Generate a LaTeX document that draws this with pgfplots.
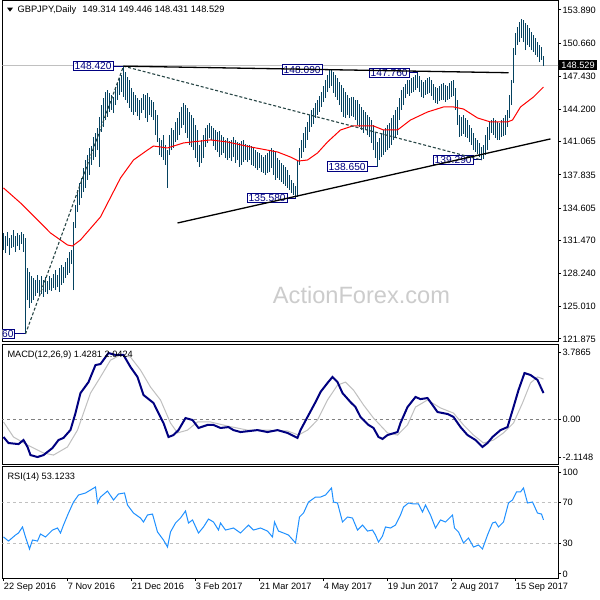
\documentclass[border=0pt]{standalone}
\usepackage{pgfplots}
\pgfplotsset{compat=1.18}
\usepackage{pgfplotstable}
\usepackage{fontspec}
\setmainfont{Liberation Sans}
\definecolor{barcol}{RGB}{5,66,96}
\definecolor{mnavy}{RGB}{0,0,128}
\definecolor{msilver}{RGB}{192,192,192}
\definecolor{rsiblue}{RGB}{30,144,255}
\definecolor{zz}{RGB}{40,70,70}
\definecolor{wm}{RGB}{204,204,204}

\pgfplotstableread{
i hi lo
0 132.19 130.54
1 131.90 130.24
2 132.29 130.92
3 131.70 130.05
4 132.00 130.73
5 132.48 130.83
6 131.90 130.34
7 132.19 130.92
8 132.00 130.54
9 132.29 131.12
10 132.09 130.34
11 131.70 122.36
12 128.78 125.67
13 128.39 124.89
14 128.01 125.38
15 127.81 125.67
16 127.62 126.06
17 128.10 126.35
18 127.62 126.16
19 128.01 126.25
20 127.62 125.96
21 127.91 126.45
22 127.52 126.25
23 128.01 126.64
24 127.81 126.55
25 128.20 126.84
26 128.59 126.64
27 128.10 126.93
28 128.78 126.45
29 129.08 127.13
30 128.88 127.32
31 129.37 127.81
32 129.76 128.10
33 130.34 128.30
34 130.54 129.17
35 133.26 126.64
36 134.91 132.68
37 136.37 134.23
38 137.05 134.91
39 137.54 135.59
40 138.51 136.18
41 139.29 136.57
42 139.78 137.35
43 140.46 137.83
44 140.65 138.81
45 141.53 139.29
46 141.92 139.58
47 142.41 140.26
48 143.48 138.61
49 144.64 142.02
50 145.32 142.50
51 145.91 143.18
52 146.10 143.48
53 145.81 143.96
54 145.62 144.16
55 145.42 143.87
56 146.30 144.64
57 146.78 145.13
58 147.27 145.62
59 147.56 145.91
60 148.42 145.42
61 147.85 145.13
62 147.37 144.84
63 147.08 144.35
64 146.30 143.96
65 145.91 143.67
66 145.62 143.96
67 145.32 143.57
68 145.13 143.18
69 145.32 143.87
70 145.71 144.16
71 145.62 143.38
72 145.81 142.99
73 145.42 143.67
74 145.13 143.48
75 144.94 143.18
76 144.16 141.72
77 143.67 141.04
78 141.43 139.78
79 141.24 139.58
80 141.72 139.29
81 140.75 138.81
82 140.26 136.57
83 141.72 139.78
84 142.41 140.26
85 142.21 140.46
86 142.99 141.04
87 143.38 141.24
88 143.96 141.72
89 144.45 142.41
90 144.84 142.70
91 144.64 141.92
92 144.35 141.43
93 143.96 140.75
94 143.67 140.56
95 143.38 140.26
96 142.70 139.49
97 142.21 139.10
98 140.75 138.61
99 141.24 139.00
100 141.72 139.49
101 142.41 140.56
102 142.70 140.95
103 142.89 141.43
104 142.60 141.24
105 142.41 140.65
106 142.21 140.26
107 142.02 140.07
108 142.11 139.58
109 141.72 139.78
110 141.53 139.97
111 141.24 139.49
112 141.43 139.29
113 141.14 139.49
114 141.24 139.19
115 141.53 139.58
116 141.24 139.00
117 141.04 139.29
118 140.95 138.61
119 141.14 138.81
120 141.24 139.10
121 140.85 139.29
122 140.75 139.10
123 140.75 139.29
124 140.65 138.81
125 140.46 138.71
126 140.26 138.51
127 140.07 138.32
128 139.97 138.51
129 139.78 138.12
130 139.58 138.03
131 139.78 137.83
132 139.97 138.03
133 140.26 138.12
134 140.46 138.51
135 140.26 137.83
136 140.07 137.35
137 139.49 137.54
138 139.29 137.35
139 139.00 137.15
140 138.81 136.96
141 138.61 136.76
142 138.32 136.57
143 137.83 136.37
144 137.35 136.08
145 137.05 135.89
146 136.76 135.58
147 139.29 135.69
148 140.46 138.81
149 141.24 139.49
150 141.92 140.07
151 142.50 140.46
152 142.99 141.24
153 143.67 142.02
154 144.16 142.50
155 144.35 142.79
156 144.84 143.38
157 145.13 143.67
158 145.52 143.96
159 145.91 144.45
160 146.49 144.94
161 147.08 145.32
162 147.56 145.91
163 148.05 146.30
164 148.09 146.49
165 147.85 145.81
166 147.56 145.42
167 147.27 145.13
168 146.88 144.64
169 146.59 143.96
170 146.30 143.48
171 145.91 143.38
172 145.62 143.67
173 145.32 143.38
174 145.42 143.57
175 145.42 143.48
176 145.13 143.18
177 145.13 142.70
178 144.74 142.50
179 144.45 142.21
180 144.16 141.92
181 143.96 142.21
182 143.67 141.72
183 143.48 141.53
184 143.18 140.95
185 142.70 140.26
186 141.92 139.49
187 141.04 138.65
188 141.43 139.29
189 141.92 139.58
190 142.21 139.78
191 142.41 140.07
192 142.70 140.26
193 142.89 140.46
194 143.38 140.75
195 143.67 141.24
196 144.16 141.43
197 144.45 141.72
198 145.32 143.18
199 146.10 144.16
200 146.39 144.64
201 146.69 145.32
202 147.08 145.71
203 147.08 145.52
204 147.27 145.81
205 147.37 145.91
206 147.56 146.10
207 147.76 146.30
208 147.47 145.91
209 147.08 145.42
210 146.88 145.32
211 147.08 145.62
212 147.27 145.71
213 147.37 145.81
214 147.08 145.52
215 146.69 145.13
216 146.39 144.84
217 146.30 144.74
218 146.49 145.03
219 146.69 145.13
220 146.78 145.13
221 146.59 144.94
222 146.49 145.13
223 146.78 145.23
224 146.98 145.42
225 147.08 145.52
226 146.30 144.16
227 145.13 142.70
228 143.67 141.53
229 143.48 141.63
230 143.67 141.82
231 143.38 141.53
232 143.18 141.43
233 142.70 141.04
234 142.41 140.75
235 141.92 140.26
236 141.43 140.07
237 141.24 139.88
238 140.95 139.58
239 140.56 139.29
240 140.75 139.39
241 141.72 139.78
242 142.50 140.26
243 142.99 141.24
244 143.18 141.92
245 143.38 141.72
246 143.18 141.43
247 142.99 141.24
248 142.89 141.24
249 143.18 141.53
250 143.38 141.63
251 143.67 141.72
252 144.16 142.50
253 145.62 143.38
254 147.08 144.64
255 150.19 146.78
256 151.65 149.51
257 152.23 150.48
258 152.72 150.77
259 153.01 151.16
260 152.91 150.77
261 152.62 149.99
262 152.43 150.48
263 152.14 150.29
264 151.75 149.99
265 151.45 149.80
266 151.16 149.51
267 150.77 149.31
268 150.48 148.83
269 150.29 149.02
270 149.45 148.43
}\bars

\pgfplotstableread{
i v
0 136.57
8.5 135.11
13.5 134.14
23.5 132.19
32 131.02
34.5 130.92
38.5 131.51
48.5 133.75
58.5 137.54
65 139.29
72 140.26
75 140.65
82 140.46
90 140.95
103.5 141.24
112 141.04
123.5 140.56
137 140.07
143.5 139.58
147.5 139.19
152 139.29
157 139.97
162 141.04
168.5 142.21
174.5 142.60
185 142.60
190 142.21
197 142.21
203.5 143.18
212 143.96
220 144.45
225 144.45
230 144.25
237 143.38
243.5 142.99
252 142.99
254.5 143.18
258.5 144.45
265 145.42
270 146.39
}\sma

\pgfplotstableread{
i v
0 -0.97
2.5 -1.31
7.5 -1.37
10 -1.14
12 -1.53
13.5 -1.99
17 -2.10
20 -1.99
24.5 -1.59
27.5 -1.14
30 -1.02
33.5 -0.57
36 0.38
38.5 1.51
42.5 2.13
46 3.09
48.5 3.15
52.5 3.77
56 3.66
60 3.66
63.5 2.98
67 2.42
70 1.40
75 0.95
77.5 0.38
80 -0.18
82.5 -0.97
85 -0.86
87.5 -0.58
91 0.10
94.5 -0.01
97.5 -0.46
102 -0.29
105 -0.29
108.5 -0.46
112.5 -0.41
115 -0.58
118.5 -0.69
127 -0.58
132 -0.69
137 -0.58
142 -0.74
147 -1.02
148.5 -0.58
152 0.16
156 1.00
158.5 1.57
162 2.08
164.5 2.42
167 2.13
169.5 1.51
173.5 1.00
176 0.72
178.5 0.16
182.5 -0.29
185 -0.46
187.5 -0.97
189.5 -1.08
192 -0.86
197 -0.69
198.5 -0.18
202 0.72
206 1.29
208.5 1.17
212 1.23
214.5 0.84
217 0.44
222 0.33
225 0.16
228.5 -0.41
232 -0.86
236 -1.14
239.5 -1.53
242 -1.31
244.5 -0.97
248.5 -0.58
252 -0.41
255 0.72
257.5 1.68
260.5 2.64
263.5 2.53
267 2.25
270 1.51
}\macd

\pgfplotstableread{
i v
0 -0.12
5 -0.97
12 -1.42
20 -1.87
25 -1.99
32 -1.53
37 -0.58
40 0.38
43.5 1.51
48.5 2.42
53.5 3.37
58.5 3.66
63.5 3.54
68.5 2.81
73.5 1.85
78.5 1.12
83.5 -0.18
87 -0.74
92 -0.58
97 -0.12
103.5 -0.12
112 -0.35
122 -0.58
132 -0.58
142 -0.63
147.5 -0.86
152 -0.58
157 -0.01
162 1.12
167 1.96
171 2.13
175 1.68
180 0.84
185 0.10
192 -0.74
197 -0.86
202 -0.29
206 0.72
212 1.12
218.5 0.67
225 0.38
230 -0.29
235 -0.86
240 -1.31
245 -1.14
250 -0.74
255 -0.18
259.5 0.95
263.5 2.08
267 2.42
270 2.30
}\sig

\pgfplotstableread{
i v
0 36.3
2.5 32.3
6 38.2
7.5 40.2
9.5 46.1
11 36.3
13 24.5
14.5 33.3
17 32.3
18.5 39.2
21 36.3
24.5 43.1
27 45.1
28.5 40.2
30 48.0
32.5 59.8
35 70.6
37.5 77.5
41 79.5
43.5 82.4
46 85.4
47 69.7
48.5 75.5
52 81.4
55 72.6
57.5 78.5
60.5 79.5
62 67.7
65 59.8
68.5 54.9
70 51.0
72 57.9
74.5 58.8
77 41.2
80 33.3
82 26.4
83.5 41.2
86 50.0
88.5 54.9
91 61.8
92.5 50.0
94.5 53.0
97.5 40.2
100 46.1
102.5 53.9
105 51.0
107.5 43.1
108.5 50.0
111 43.1
115 45.1
118.5 40.2
122.5 48.0
125 43.1
128.5 45.1
132 42.1
134.5 36.3
135.5 51.0
137.5 42.1
140 40.2
142.5 38.2
146 30.4
148 55.9
150 59.8
152.5 70.6
156 75.5
158.5 75.5
161 77.5
164 84.4
165 70.6
167 69.7
169.5 51.0
172 55.9
174.5 54.9
177 43.1
179.5 48.0
182 42.1
184.5 43.1
186 38.2
187.5 31.3
189.5 37.2
191 46.1
193.5 45.1
196 48.0
198.5 57.9
200 65.7
202.5 69.7
205 68.7
207.5 68.7
209.5 60.8
211 67.7
213.5 57.9
216 45.1
218.5 53.0
221 51.0
224.5 57.9
225.5 45.1
227.5 41.2
230 30.4
232.5 35.3
235 26.4
237.5 28.4
239.5 24.5
242 38.2
244.5 50.0
246 51.0
247.5 46.1
250 51.0
252.5 69.7
254.5 72.6
256.5 80.5
258.5 80.5
260 84.4
262 69.7
264.5 70.6
267 59.8
269 58.8
270 53.1
}\rsi

\tikzset{
  lbl/.style={draw=mnavy, fill=white, text=mnavy, line width=0.5pt,
    font=\fontsize{5.1}{6}\selectfont, inner xsep=0.7pt, inner ysep=0.6pt, anchor=east},
}

\begin{document}
\begin{tikzpicture}
\fill[white] (0,0) rectangle (300pt,300pt);
\path[use as bounding box] (0,0) rectangle (300pt,300pt);
\pgfplotsset{
  mt/.style={
    scale only axis, width=277.75pt, xmin=-0.5, xmax=277.25,
    anchor=south west,
    axis line style={line width=0.5pt, black},
    tick style={line width=0.5pt, black},
    major tick length=1.5pt, tick align=outside,
    ytick pos=right, yticklabel pos=right,
    yticklabel style={anchor=west, inner sep=0pt, xshift=0.6pt},
    ticklabel style={font=\fontsize{4.6}{5.5}\selectfont},
    /pgf/number format/assume math mode=true,
  },
}
% ---------------- price panel
\begin{axis}[mt, at={(1.25pt,129.25pt)}, height=170.25pt,
  ymin=121.63, ymax=154.76, xtick=\empty,
  ytick={121.875,125.010,128.240,131.470,134.605,137.835,141.065,144.200,147.430,150.660,153.890},
  yticklabels={121.875,125.010,128.240,131.470,134.605,137.835,141.065,144.200,147.430,150.660,153.890}]
\node[text=wm, font=\fontsize{11.8}{13}\selectfont] at (axis cs:179,126.16) {ActionForex.com};
\addplot[msilver, line width=0.5pt] coordinates {(-1,148.529) (280,148.529)};
% pivot labels
\draw[mnavy, line width=0.5pt] (axis cs:55,148.42) -- (axis cs:60,148.42);
\node[lbl] at (axis cs:55,148.42) {148.420};
\draw[mnavy, line width=0.5pt] (axis cs:159.5,148.09) -- (axis cs:164,148.09);
\node[lbl] at (axis cs:159.5,148.09) {148.090};
\draw[mnavy, line width=0.5pt] (axis cs:203,147.76) -- (axis cs:207,147.76);
\node[lbl] at (axis cs:203,147.76) {147.760};
\draw[mnavy, line width=0.5pt] (axis cs:142,135.58) -- (axis cs:146,135.58);
\node[lbl] at (axis cs:142,135.58) {135.580};
\draw[mnavy, line width=0.5pt] (axis cs:182,138.65) -- (axis cs:187,138.65);
\node[lbl] at (axis cs:182,138.65) {138.650};
\draw[mnavy, line width=0.5pt] (axis cs:235,139.29) -- (axis cs:239,139.29);
\node[lbl] at (axis cs:235,139.29) {139.290};
\draw[mnavy, line width=0.5pt] (axis cs:6,122.36) -- (axis cs:11,122.36);
\node[lbl] at (axis cs:6,122.36) {122.360};
% bars
\addplot[draw=none, mark=none, error bars/.cd, y dir=plus, y explicit, error mark=none,
  error bar style={draw=barcol, line width=0.55pt, solid}]
  table[x=i, y=lo, y error plus expr=\thisrow{hi}-\thisrow{lo}] {\bars};
% moving average
\addplot[red, line width=0.5pt] table[x=i, y=v] {\sma};
% zigzag
\addplot[zz, line width=0.55pt, dash pattern=on 1.5pt off 1pt] coordinates {(11,122.36) (60,148.42) (239,139.29)};
% trendlines
\addplot[black, line width=0.65pt] coordinates {(60,148.42) (252.5,147.78)};
\addplot[black, line width=0.65pt] coordinates {(87,133.16) (273.5,141.34)};
\coordinate (cp) at (axis cs:277.25,148.529);
\end{axis}
\node[fill=black, text=white, anchor=west, inner xsep=1.2pt, inner ysep=0.9pt,
  font=\fontsize{4.6}{5.5}\selectfont] at ([xshift=0.3pt]cp) {148.529};
% header
\fill[black] (3.5pt,296.2pt) -- (6.5pt,296.2pt) -- (5pt,294.2pt) -- cycle;
\node[anchor=west, inner sep=0pt, font=\fontsize{4.65}{5.5}\selectfont] at (8.6pt,295pt)
  {GBPJPY,Daily\hspace{3pt}149.314 149.446 148.431 148.529};
% ---------------- MACD panel
\begin{axis}[mt, at={(1.25pt,67.5pt)}, height=60.5pt,
  ymin=-2.55, ymax=4.28, xtick=\empty,
  ytick={-2.1148,0,3.7865}, yticklabels={-2.1148,0.00,3.7865}]
\addplot[gray, line width=0.5pt, dash pattern=on 1.5pt off 1.5pt] coordinates {(-1,0) (280,0)};
\addplot[msilver, line width=0.5pt] table[x=i, y=v] {\sig};
\addplot[mnavy, line width=1pt] table[x=i, y=v] {\macd};
\node[anchor=north west, inner sep=0pt, font=\fontsize{4.6}{5.5}\selectfont] at (rel axis cs:0,1) [xshift=2.3pt, yshift=-3.3pt] {MACD(12,26,9) 1.4281 2.0424};
\end{axis}
% ---------------- RSI panel
\begin{axis}[mt, at={(1.25pt,11pt)}, height=56pt,
  ymin=-4, ymax=106,
  ytick={0,30,70,100}, yticklabels={0,30,70,100},
  xtick pos=bottom,
  xtick={0,32,64,96,128,160,192,224,256},
  xticklabels={22 Sep 2016,7 Nov 2016,21 Dec 2016,3 Feb 2017,21 Mar 2017,4 May 2017,19 Jun 2017,2 Aug 2017,15 Sep 2017},
  xticklabel style={anchor=north west, inner sep=0pt, yshift=-0.8pt}]
\addplot[msilver, line width=0.5pt, dash pattern=on 1.5pt off 1.5pt] coordinates {(-1,70) (280,70)};
\addplot[msilver, line width=0.5pt, dash pattern=on 1.5pt off 1.5pt] coordinates {(-1,30) (280,30)};
\addplot[rsiblue, line width=0.5pt] table[x=i, y=v] {\rsi};
\node[anchor=north west, inner sep=0pt, font=\fontsize{4.6}{5.5}\selectfont] at (rel axis cs:0,1) [xshift=2.3pt, yshift=-3.3pt] {RSI(14) 53.1233};
\end{axis}
\end{tikzpicture}
\end{document}
